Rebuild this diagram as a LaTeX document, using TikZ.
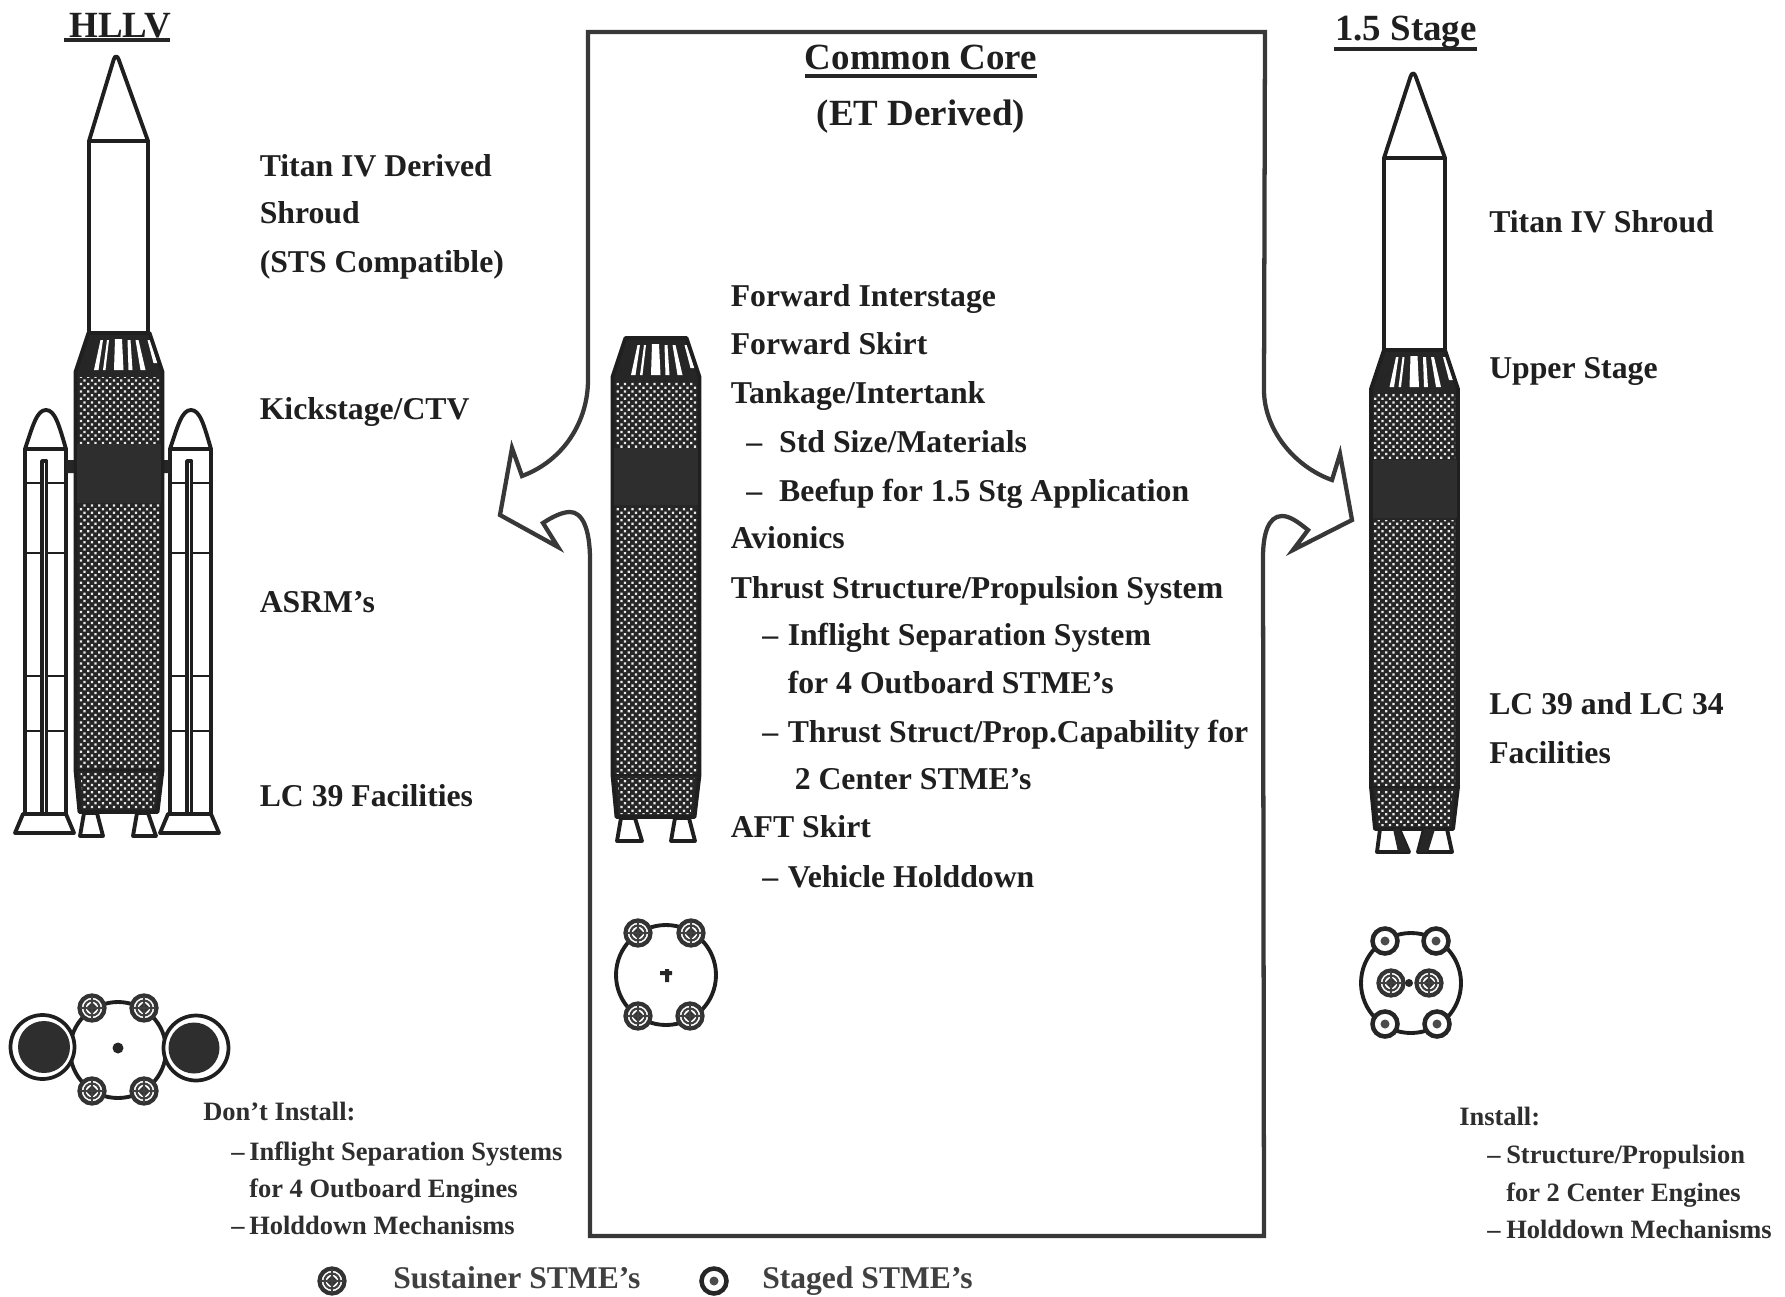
\documentclass[tikz,border=0pt]{standalone}
\usepackage{fontspec}
\setmainfont{Liberation Serif}
\usetikzlibrary{patterns.meta}
\newdimen\pxu \pxu=0.75pt
\newcommand\dashitem[2]{\makebox[#1\pxu][l]{--}#2}
\tikzset{
  ink/.style={draw=black!88,line width=2.9pt,line join=round},
  thinink/.style={draw=black!88,line width=2.2pt,line join=round},
  dither/.style={pattern={Dots[radius=1.2pt,distance=3.9pt,angle=45]},pattern color=white!92!black},
  title/.style={inner sep=0pt,anchor=base,font=\bfseries\fontsize{27.7}{30}\selectfont,text=black!88},
  lab/.style={inner sep=0pt,anchor=base west,font=\bfseries\fontsize{23.8}{26}\selectfont,text=black!88},
  small/.style={inner sep=0pt,anchor=base west,font=\bfseries\fontsize{19.85}{22}\selectfont,text=black!82},
  legend/.style={inner sep=0pt,anchor=base west,font=\fontsize{23.7}{26}\selectfont\bfseries,text=black!75},
  ulstyle/.style={draw=black!85,line width=2.4pt},
}
% core stage: origin = left body x, top of flare
\newcommand\corestage[2]{%
\begin{scope}[shift={(#1,#2)}]
  \fill[black!85] (13,0)--(74,0)--(87,39)--(0,39)--cycle;
  \fill[white] (25,7)--(27.5,7)--(23,37)--(18.5,37)--cycle
    (31.5,7)--(33.5,7)--(30,37)--(27.5,37)--cycle
    (39.5,6)--(46.5,6)--(48,37)--(38.5,37)--cycle
    (52,7)--(55,7)--(57,37)--(53,37)--cycle
    (60,7)--(63,7)--(70,37)--(65,37)--cycle
    (72,7)--(75,7)--(82,30)--(78,30)--cycle;
  \fill[black!85] (0,39) rectangle (87,437);
  \fill[black!85] (0,437)--(87,437)--(82,479)--(4,479)--cycle;
  \path[dither] (3,44) rectangle (84,110);
  \path[dither] (3,170) rectangle (84,435);
  \path[dither] (5,440)--(82,440)--(78,476)--(8,476)--cycle;
  \draw[ink] (13,0)--(74,0)--(87,39)--(87,437)--(82,479)--(4,479)--(0,437)--(0,39)--cycle;
  \draw[thinink] (0,437)--(87,437);
\end{scope}}
% solid rocket booster
\newcommand\booster[1]{%
\begin{scope}[shift={(#1,0)}]
  \draw[ink,fill=white] (25,449) .. controls (33,425) and (37,410) .. (46,410) .. controls (55,410) and (59,425) .. (66,449) -- cycle;
  \draw[ink] (25,449)--(25,813) (66,449)--(66,813);
  \draw[ink] (42,813)--(42,461)--(46.5,461)--(46.5,813);
  \draw[thinink] (25,483)--(42,483) (46.5,483)--(66,483)
     (25,553)--(42,553) (46.5,553)--(66,553)
     (25,676)--(42,676) (46.5,676)--(66,676)
     (25,731)--(42,731) (46.5,731)--(66,731);
  \draw[ink,fill=white] (23,814)--(66,814)--(74,833)--(15,833)--cycle;
\end{scope}}
\newcommand\nozzle[4]{\draw[ink,fill=white] (#1,#4)--(#2,#4)--(#3,#4+23)--(#1-4,#4+23)--cycle;}
% engine symbols
\newcommand\sustainer[2]{%
  \draw[draw=black!80,line width=3.2pt,fill=white] (#1,#2) circle (12.5);
  \draw[draw=black!75,line width=1.6pt] (#1,#2) circle (7.5);
  \fill[black!80] (#1-6,#2)--(#1,#2-6)--(#1+6,#2)--(#1,#2+6)--cycle;
  \draw[draw=black!75,line width=1.2pt] (#1-12,#2)--(#1+12,#2) (#1,#2-12)--(#1,#2+12);}
\newcommand\staged[2]{%
  \draw[draw=black!85,line width=3.4pt,fill=white] (#1,#2) circle (12.5);
  \fill[black!70] (#1,#2) circle (4.5);}
\begin{document}
\begin{tikzpicture}[x=0.75pt,y=-0.75pt]
\useasboundingbox (0,0) rectangle (1785,1296);
\fill[white] (0,0) rectangle (1785,1296);

% ---------- centre box with the two outline arrows
\draw[draw=black!78,line width=3.2pt,line join=miter]
  (590,560) .. controls (590,528) and (582,512) .. (570,512)
  .. controls (562,512) and (552,517) .. (543,523)
  -- (558,547) -- (500,515) -- (512,448) -- (522,476)
  .. controls (565,460) and (588,420) .. (588,380)
  -- (588,32) -- (1265,32) -- (1264,390)
  .. controls (1264,430) and (1295,467) .. (1332,480)
  -- (1340,454) -- (1352,520) -- (1293,550) -- (1308,530)
  .. controls (1298,522) and (1290,516) .. (1282,516)
  .. controls (1268,516) and (1263,535) .. (1263,557)
  -- (1264,1236) -- (590,1236) -- cycle;

% ---------- HLLV vehicle
\draw[ink,fill=white] (89,141) [rounded corners=6pt] -- (116,52) [sharp corners] -- (148,141) -- cycle;
\draw[ink] (89,141)--(89,333) (148,141)--(148,333);
\booster{0}
\booster{145}
\fill[black!85] (66,460) rectangle (76,473) (162,460) rectangle (170,473);
\corestage{75.5}{333}
\path[fill=black!82] (77,444) rectangle (161,503);
\nozzle{84}{97}{103}{813}
\nozzle{137}{148}{156}{813}

% HLLV footprint
\draw[ink] (118,1050) circle (48);
\draw[draw=black!88,line width=2.8pt,fill=white] (42.5,1047) circle (32);
\fill[black!82] (44,1047) circle (26);
\draw[draw=black!88,line width=2.8pt,fill=white] (196,1048) circle (32.5);
\fill[black!82] (194,1048) circle (25.5);
\sustainer{92}{1008}\sustainer{144}{1008}\sustainer{92}{1091}\sustainer{144}{1091}
\fill[black!85] (118,1048) circle (5.5);

% ---------- common core vehicle
\corestage{612.5}{338}
\path[fill=black!82] (614,448) rectangle (698,505);
\nozzle{621}{635}{642}{818}
\nozzle{675}{689}{695}{818}
\draw[ink] (666,975) circle (50);
\sustainer{638}{933}\sustainer{691}{933}\sustainer{638}{1016}\sustainer{690}{1016}
\fill[black!85] (665,969) rectangle (669,982) (660,971) rectangle (672,975);

% ---------- 1.5 stage vehicle
\draw[ink,fill=white] (1384,158) [rounded corners=6pt] -- (1413,69) [sharp corners] -- (1445,158) -- cycle;
\draw[ink] (1384,158)--(1384,350) (1445,158)--(1445,350);
\corestage{1371}{350}
\path[fill=black!82] (1373,460) rectangle (1457,518);
\draw[ink,fill=white] (1380,829)--(1399,829)--(1409,852)--(1377,852)--cycle;
\draw[ink,fill=white] (1424,829)--(1447,829)--(1452,852)--(1418,852)--cycle;
\path[dither,fill=black!85] (1393,829)--(1399,829)--(1409,852)--(1398,852)--cycle;
\path[dither,fill=black!85] (1424,829)--(1435,829)--(1428,852)--(1418,852)--cycle;
\draw[ink] (1411,983) circle (50);
\staged{1385}{941}\staged{1436}{941}\staged{1385}{1024}\staged{1437}{1024}
\sustainer{1391}{983}\sustainer{1429}{983}
\fill[black!85] (1409,983) circle (4);

% ---------- titles
\node[title] (thllv) at (120,37) {HLLV};
\draw[ulstyle] (64,40)--(170,40);
\node[title] (tcore) at (921,69) {Common Core};
\draw[ulstyle] (805,76)--(1037,76);
\node[title] (tet) at (921,125) {(ET Derived)};
\node[title] (tstage) at (1406,40) {1.5 Stage};
\draw[ulstyle] (1334,49)--(1477,49);

% ---------- HLLV labels
\node[lab] (a1) at (259.5,176) {Titan IV Derived};
\node[lab] (a2) at (259.5,223.5) {Shroud};
\node[lab] (a3) at (259.5,272) {(STS Compatible)};
\node[lab] (a4) at (259.5,419) {Kickstage/CTV};
\node[lab] (a5) at (259.5,612.5) {ASRM's};
\node[lab] (a6) at (259.5,806) {LC 39 Facilities};

% ---------- core labels
\node[lab] (b1) at (730.5,306) {Forward Interstage};
\node[lab] (b2) at (730.5,354) {Forward Skirt};
\node[lab] (b3) at (730.5,403) {Tankage/Intertank};
\node[lab] (b4) at (746,452) {\dashitem{33}{Std Size/Materials}};
\node[lab] (b5) at (746,501) {\dashitem{33}{Beefup for 1.5 Stg Application}};
\node[lab] (b6) at (730.5,548) {Avionics};
\node[lab] (b7) at (730.5,598) {Thrust Structure/Propulsion System};
\node[lab] (b8) at (762,645) {\dashitem{25.5}{Inflight Separation System}};
\node[lab] (b9) at (787.5,693) {for 4 Outboard STME's};
\node[lab] (b10) at (762,742) {\dashitem{25.5}{Thrust Struct/Prop.Capability for}};
\node[lab] (b11) at (794.5,789.5) {2 Center STME's};
\node[lab] (b12) at (730.5,837.5) {AFT Skirt};
\node[lab] (b13) at (762,887) {\dashitem{25.5}{Vehicle Holddown}};

% ---------- stage labels
\node[lab] (c1) at (1489,232) {Titan IV Shroud};
\node[lab] (c2) at (1489,378) {Upper Stage};
\node[lab] (c3) at (1489,714.5) {LC 39 and LC 34};
\node[lab] (c4) at (1489,763) {Facilities};

% ---------- lower notes
\node[small] (d1) at (203,1120) {Don't Install:};
\node[small] (d2) at (231,1160) {\dashitem{18}{Inflight Separation Systems}};
\node[small] (d3) at (249,1197) {for 4 Outboard Engines};
\node[small] (d4) at (231,1234) {\dashitem{18}{Holddown Mechanisms}};
\node[small] (e1) at (1459,1125) {Install:};
\node[small] (e2) at (1487,1163.5) {\dashitem{19}{Structure/Propulsion}};
\node[small] (e3) at (1506,1201) {for 2 Center Engines};
\node[small] (e4) at (1487,1238) {\dashitem{19}{Holddown Mechanisms}};

% ---------- legend
\sustainer{332}{1281}
\node[legend] (l1) at (393,1288.5) {Sustainer STME's};
\staged{714}{1281}
\node[legend] (l2) at (762,1288.5) {Staged STME's};
\end{tikzpicture}
\end{document}
